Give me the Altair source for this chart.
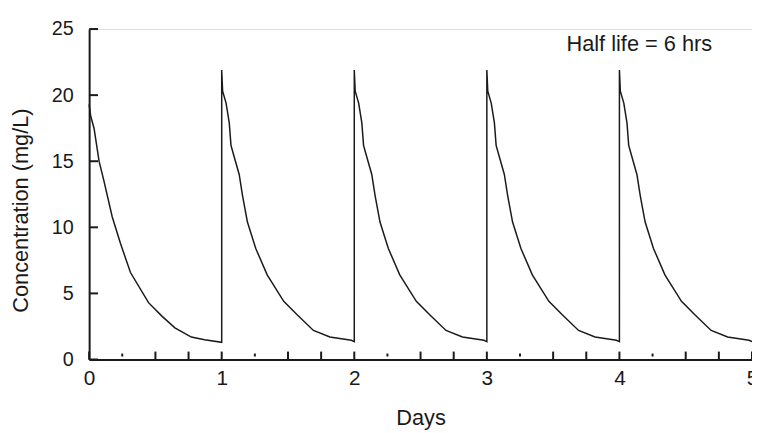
import altair as alt
import pandas as pd

# First dose (day 0) – time in days, concentration mg/L
first_t = [0.0, 0.012, 0.037, 0.075, 0.112, 0.174, 0.236, 0.311, 0.448, 0.547, 0.647, 0.771, 0.871, 1.0]
first_c = [19.3, 18.4, 17.5, 15.0, 13.5, 10.8, 8.8, 6.6, 4.3, 3.3, 2.4, 1.7, 1.5, 1.3]

# Repeated dose cycle (offset from dose day)
cycle_t = [0.0, 0.007, 0.033, 0.057, 0.07, 0.095, 0.132, 0.157, 0.194, 0.257, 0.343, 0.468, 0.567, 0.692, 0.816, 0.978, 1.0]
cycle_c = [21.9, 20.3, 19.4, 17.9, 16.2, 15.3, 14.0, 12.4, 10.4, 8.4, 6.4, 4.4, 3.4, 2.2, 1.7, 1.45, 1.35]
dose_days = [1, 2, 3, 4]

y_ticks = [0, 5, 10, 15, 20, 25]
x_labels = [0, 1, 2, 3, 4, 5]
long_ticks = [0, 0.5, 0.75, 1, 1.5, 1.75, 2, 2.5, 2.75, 3, 3.5, 3.75, 4, 4.5, 4.75, 5]
short_ticks = [0.25, 1.25, 2.25, 3.25, 4.25]
note = "Half life = 6 hrs"

rows = []
k = 0
for t, c in zip(first_t, first_c):
    rows.append({"day": t, "conc": c, "k": k}); k += 1
for d in dose_days:
    for t, c in zip(cycle_t, cycle_c):
        rows.append({"day": d + t, "conc": c, "k": k}); k += 1
df = pd.DataFrame(rows)

W, H = 670, 334
FONT = "Liberation Sans"
INK = "#1a1a1a"

xs = alt.Scale(domain=[0, 5], nice=False, zero=False)
ys = alt.Scale(domain=[0, 25], nice=False)

line = alt.Chart(df).mark_line(color=INK, strokeWidth=1.5, clip=False).encode(
    x=alt.X("day:Q", scale=xs, title="Days",
            axis=alt.Axis(values=x_labels, format="d", ticks=False, tickSize=0, grid=False,
                          domainColor=INK, domainWidth=2, labelFont=FONT, labelFontSize=21,
                          labelColor=INK, labelPadding=8, labelFlush=False,
                          titleFont=FONT, titleFontSize=22, titleFontWeight="normal",
                          titleColor=INK, titlePadding=20)),
    y=alt.Y("conc:Q", scale=ys, title="Concentration (mg/L)",
            axis=alt.Axis(values=y_ticks, ticks=False, tickSize=0, grid=False,
                          domainColor=INK, domainWidth=2, labelFont=FONT, labelFontSize=20,
                          labelColor=INK, labelPadding=16,
                          titleFont=FONT, titleFontSize=22, titleFontWeight="normal",
                          titleColor=INK, titleX=-57, titleY=183)),
    order="k:Q",
)

ytick = alt.Chart(pd.DataFrame({"v": y_ticks})).mark_rule(color=INK, strokeWidth=2).encode(
    y=alt.Y("v:Q", scale=ys), x=alt.value(0), x2=alt.value(9))

xtick_long = alt.Chart(pd.DataFrame({"v": long_ticks})).mark_rule(color=INK, strokeWidth=2).encode(
    x=alt.X("v:Q", scale=xs), y=alt.value(H), y2=alt.value(H - 8))

xtick_short = alt.Chart(pd.DataFrame({"v": short_ticks})).mark_rule(color=INK, strokeWidth=2).encode(
    x=alt.X("v:Q", scale=xs), y=alt.value(H - 3), y2=alt.value(H - 6))

label = alt.Chart(pd.DataFrame({"t": [note]})).mark_text(
    font=FONT, fontSize=22, color=INK, align="center", baseline="middle").encode(
    x=alt.datum(4.15), y=alt.datum(23.9), text="t:N")

chart = alt.layer(line, ytick, xtick_long, xtick_short, label).properties(
    width=W, height=H,
    autosize=alt.AutoSizeParams(type="none"),
    padding={"left": 82, "top": 19, "right": 0, "bottom": 70},
).configure_view(stroke=None).configure(background="white")

chart.save("out.html", embed_options={"renderer": "svg", "actions": False})
